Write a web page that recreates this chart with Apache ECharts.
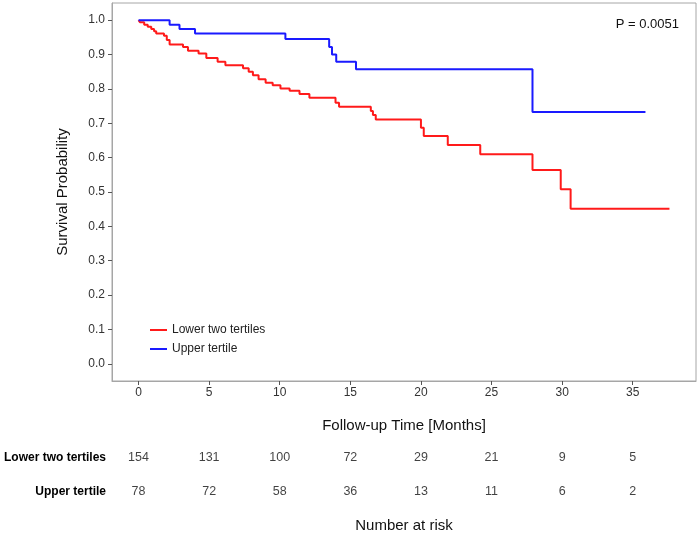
<!DOCTYPE html>
<html>
<head>
<meta charset="utf-8">
<script src="https://cdn.jsdelivr.net/npm/echarts@6/dist/echarts.min.js"></script>
<style>
html,body{margin:0;padding:0;background:#fff;}
#chart{width:700px;height:541px;}
</style>
</head>
<body>
<div id="chart"></div>
<script>
// Kaplan-Meier step data (time in months, survival probability from that time on)
var redTimes = [0, 0.1, 0.4, 0.65, 0.9, 1.1, 1.25, 1.8, 2.0, 2.2, 3.15, 3.5, 4.25, 4.8, 5.6, 6.15, 7.4, 7.8, 8.1, 8.5, 9.0, 9.5, 10.05, 10.7, 11.4, 12.1, 13.95, 14.2, 16.45, 16.6, 16.8, 20.0, 20.2, 21.9, 24.2, 27.9, 29.9, 30.6, 37.6];
var redSurv  = [1.0, 0.994, 0.987, 0.981, 0.974, 0.968, 0.961, 0.955, 0.942, 0.929, 0.922, 0.911, 0.903, 0.890, 0.879, 0.869, 0.860, 0.850, 0.840, 0.828, 0.818, 0.811, 0.801, 0.795, 0.785, 0.774, 0.760, 0.748, 0.736, 0.724, 0.711, 0.687, 0.663, 0.637, 0.610, 0.564, 0.508, 0.451, 0.451];
var blueTimes = [0, 2.2, 2.9, 4.0, 10.4, 13.5, 13.7, 14.0, 15.4, 27.9, 35.9];
var blueSurv  = [1.0, 0.987, 0.974, 0.961, 0.945, 0.922, 0.900, 0.879, 0.857, 0.733, 0.733];

var seriesNames = ['Lower two tertiles', 'Upper tertile'];
var xTicks = [0, 5, 10, 15, 20, 25, 30, 35];
var yTicks = [0, 0.1, 0.2, 0.3, 0.4, 0.5, 0.6, 0.7, 0.8, 0.9, 1.0];
var riskTimes = [0, 5, 10, 15, 20, 25, 30, 35];
var riskLower = [154, 131, 100, 72, 29, 21, 9, 5];
var riskUpper = [78, 72, 58, 36, 13, 11, 6, 2];
var pText = 'P = 0.0051';

function pairs(xs, ys) { return xs.map(function (x, i) { return [x, ys[i]]; }); }

var FONT = '"Liberation Sans", Arial, sans-serif';
var xMin = -1.88, xMax = 39.48;

var chart = echarts.init(document.getElementById('chart'), null, {renderer: 'canvas'});
chart.setOption({
  backgroundColor: '#ffffff',
  animation: false,
  textStyle: {fontFamily: FONT},
  title: {
    text: pText, right: 16, top: 13,
    textStyle: {fontFamily: FONT, fontSize: 13, fontWeight: 'normal', color: '#111'}
  },
  legend: {
    data: seriesNames, orient: 'vertical', left: 145, top: 319,
    icon: 'rect', itemWidth: 17, itemHeight: 2, itemGap: 7,
    textStyle: {fontFamily: FONT, fontSize: 12, color: '#222'}
  },
  grid: [
    {left: 112, top: 3, width: 584, height: 378, show: true, borderColor: '#a6a6a6', borderWidth: 1, containLabel: false},
    {left: 112, top: 441, width: 584, height: 68, show: false, containLabel: false}
  ],
  xAxis: [
    {
      type: 'value', gridIndex: 0, min: xMin, max: xMax,
      name: 'Follow-up Time [Months]', nameLocation: 'middle', nameGap: 37,
      nameTextStyle: {fontFamily: FONT, fontSize: 15, color: '#111'},
      axisLine: {show: true, onZero: false, lineStyle: {color: '#a6a6a6'}},
      axisTick: {show: true, length: 4, customValues: xTicks, lineStyle: {color: '#555'}},
      axisLabel: {customValues: xTicks, fontFamily: FONT, fontSize: 12, color: '#333', margin: 6},
      splitLine: {show: false}
    },
    {
      type: 'value', gridIndex: 1, min: xMin, max: xMax,
      name: 'Number at risk', nameLocation: 'middle', nameGap: 9,
      nameTextStyle: {fontFamily: FONT, fontSize: 15, color: '#111'},
      axisLine: {show: false}, axisTick: {show: false}, axisLabel: {show: false}, splitLine: {show: false}
    }
  ],
  yAxis: [
    {
      type: 'value', gridIndex: 0, min: -0.05, max: 1.05,
      name: 'Survival Probability', nameLocation: 'middle', nameGap: 42, nameRotate: 90,
      nameTextStyle: {fontFamily: FONT, fontSize: 15, color: '#111'},
      axisLine: {show: true, onZero: false, lineStyle: {color: '#a6a6a6'}},
      axisTick: {show: true, length: 4, customValues: yTicks, lineStyle: {color: '#555'}},
      axisLabel: {customValues: yTicks, fontFamily: FONT, fontSize: 12, color: '#333', margin: 7,
        formatter: function (v) { return v.toFixed(1); }},
      splitLine: {show: false}
    },
    {
      type: 'category', gridIndex: 1, data: seriesNames, inverse: true,
      axisLine: {show: false}, axisTick: {show: false},
      axisLabel: {fontFamily: FONT, fontSize: 12, fontWeight: 'bold', color: '#000', margin: 6},
      splitLine: {show: false}
    }
  ],
  series: [
    {
      name: seriesNames[0], type: 'line', step: 'end', xAxisIndex: 0, yAxisIndex: 0,
      data: pairs(redTimes, redSurv), showSymbol: false, symbol: 'none',
      lineStyle: {color: '#ff1a1a', width: 2}, itemStyle: {color: '#ff1a1a'}
    },
    {
      name: seriesNames[1], type: 'line', step: 'end', xAxisIndex: 0, yAxisIndex: 0,
      data: pairs(blueTimes, blueSurv), showSymbol: false, symbol: 'none',
      lineStyle: {color: '#1a1aff', width: 2}, itemStyle: {color: '#1a1aff'}
    },
    {
      type: 'scatter', xAxisIndex: 1, yAxisIndex: 1, symbolSize: 0, silent: true,
      data: riskTimes.map(function (t, i) { return [t, seriesNames[0], riskLower[i]]; }),
      label: {show: true, position: 'inside', fontFamily: FONT, fontSize: 12.5, color: '#111',
        formatter: function (p) { return String(p.value[2]); }}
    },
    {
      type: 'scatter', xAxisIndex: 1, yAxisIndex: 1, symbolSize: 0, silent: true,
      data: riskTimes.map(function (t, i) { return [t, seriesNames[1], riskUpper[i]]; }),
      label: {show: true, position: 'inside', fontFamily: FONT, fontSize: 12.5, color: '#111',
        formatter: function (p) { return String(p.value[2]); }}
    }
  ]
});
</script>
</body>
</html>
